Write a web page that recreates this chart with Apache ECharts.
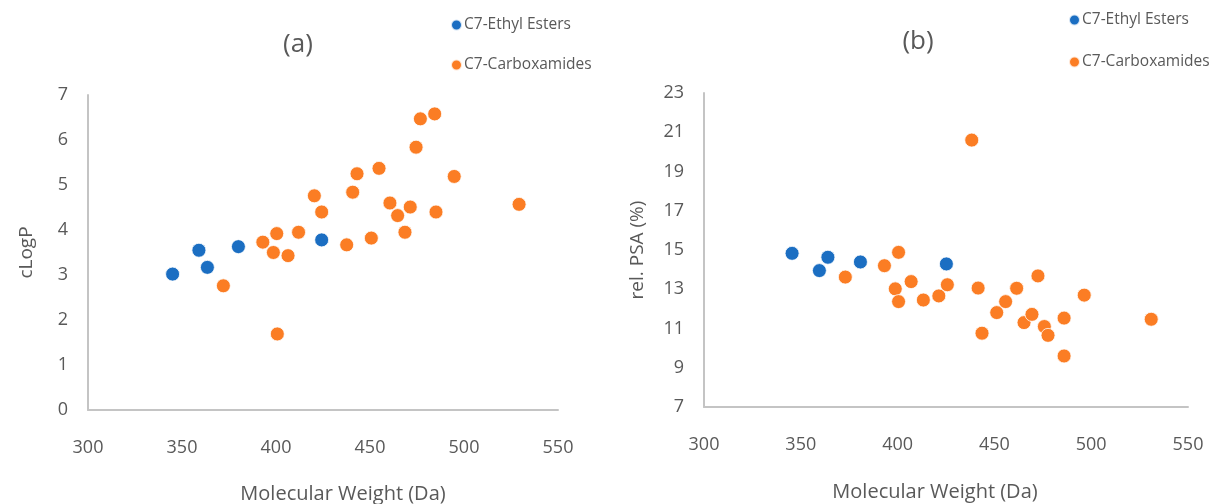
<!DOCTYPE html>
<html>
<head>
<meta charset="utf-8">
<script src="https://cdn.jsdelivr.net/npm/echarts@6/dist/echarts.min.js"></script>
<style>html,body{margin:0;padding:0;background:#fff}#c{width:1212px;height:504px}</style>
</head>
<body>
<div id="c"></div>
<script>
// Chart (a): cLogP vs Molecular Weight
const estersA = [[345,3.02],[359,3.55],[363.5,3.17],[380,3.63],[424.3,3.78]];
const amidesA = [[372,2.76],[393,3.73],[398.6,3.50],[400.4,3.92],[400.7,1.69],[406.4,3.43],[412,3.95],
  [420.4,4.76],[424.3,4.40],[437.6,3.67],[440.8,4.84],[443.1,5.25],[450.7,3.82],[454.8,5.37],
  [460.6,4.60],[464.7,4.32],[468.6,3.95],[471.4,4.51],[474.5,5.84],[476.8,6.47],[484.4,6.58],
  [485.1,4.40],[494.8,5.19],[529.3,4.57]];
// Chart (b): rel. PSA vs Molecular Weight
const estersB = [[345.5,14.83],[359.6,13.95],[364,14.63],[380.8,14.39],[425.2,14.29]];
const amidesB = [[373,13.62],[393.2,14.2],[400.5,14.88],[398.8,13.02],[400.5,12.37],[407,13.39],
  [413.3,12.45],[421.3,12.66],[425.7,13.23],[438.3,20.6],[441.6,13.06],[443.6,10.76],[451.2,11.81],
  [455.8,12.37],[461.5,13.05],[465.3,11.3],[469.4,11.72],[472.5,13.68],[475.8,11.1],[477.7,10.65],
  [486,11.53],[486,9.6],[496.4,12.7],[531,11.47]];
const xTicks = {min:300, max:550, interval:50};
const yTicksA = {min:0, max:7, interval:1};
const yTicksB = {min:7, max:23, interval:2};
const seriesNames = ['C7-Ethyl Esters','C7-Carboxamides'];
const panelTitles = ['(a)','(b)'];
const xName = 'Molecular Weight (Da)';
const yNames = ['cLogP','rel. PSA (%)'];

const FONT = '"Open Sans", sans-serif';
const GREY = '#595959';
const BLUE = '#1b6ec2';
const ORANGE = '#fb7d24';

function xAxis(gi){
  return {type:'value', gridIndex:gi, min:xTicks.min, max:xTicks.max, interval:xTicks.interval,
    axisLine:{show:true, onZero:false, lineStyle:{color:'#c4c4c4', width:2}},
    axisTick:{show:false}, splitLine:{show:false},
    axisLabel:{color:GREY, fontSize:18, fontFamily:FONT, margin:29}};
}
function yAxis(gi, t, name, gap){
  return {type:'value', gridIndex:gi, min:t.min, max:t.max, interval:t.interval,
    name:name, nameLocation:'middle', nameRotate:90, nameGap:gap,
    nameTextStyle:{color:GREY, fontSize:19, fontFamily:FONT},
    axisLine:{show:true, lineStyle:{color:'#c4c4c4', width:2}},
    axisTick:{show:false}, splitLine:{show:false},
    axisLabel:{color:GREY, fontSize:18, fontFamily:FONT, margin:20}};
}
function sc(name, data, color, gi){
  return {type:'scatter', name:name, xAxisIndex:gi, yAxisIndex:gi, data:data,
    symbolSize:14, itemStyle:{color:color, borderColor:'rgba(255,255,255,0.8)', borderWidth:1, opacity:1}};
}
function legend(left, top, gap){
  return {orient:'vertical', left:left, top:top, padding:0, itemWidth:11, itemHeight:11, itemGap:gap,
    icon:'circle', data:seriesNames,
    textStyle:{color:GREY, fontSize:15.5, fontFamily:FONT, lineHeight:16, padding:[0,0,0,-3]}};
}

const chart = echarts.init(document.getElementById('c'), null, {renderer:'canvas'});
chart.setOption({
  animation:false,
  backgroundColor:'#fff',
  title:[
    {text:panelTitles[0], left:293, top:27, textAlign:'center', textStyle:{color:GREY, fontSize:26, fontWeight:'normal', fontFamily:FONT}},
    {text:panelTitles[1], left:913, top:24, textAlign:'center', textStyle:{color:GREY, fontSize:26, fontWeight:'normal', fontFamily:FONT}},
    {text:xName, left:338, top:479, textAlign:'center', textStyle:{color:GREY, fontSize:20, fontWeight:'normal', fontFamily:FONT}},
    {text:xName, left:930, top:477, textAlign:'center', textStyle:{color:GREY, fontSize:20, fontWeight:'normal', fontFamily:FONT}}
  ],
  legend:[legend(450, 17, 24), legend(1068, 12, 26)],
  grid:[
    {left:88, right:654, top:95, bottom:94},
    {left:704, right:24, top:93, bottom:97}
  ],
  xAxis:[xAxis(0), xAxis(1)],
  yAxis:[yAxis(0, yTicksA, yNames[0], 52), yAxis(1, yTicksB, yNames[1], 57)],
  series:[
    sc(seriesNames[0], estersA, BLUE, 0),
    sc(seriesNames[1], amidesA, ORANGE, 0),
    sc(seriesNames[0], estersB, BLUE, 1),
    sc(seriesNames[1], amidesB, ORANGE, 1)
  ]
});
</script>
</body>
</html>
